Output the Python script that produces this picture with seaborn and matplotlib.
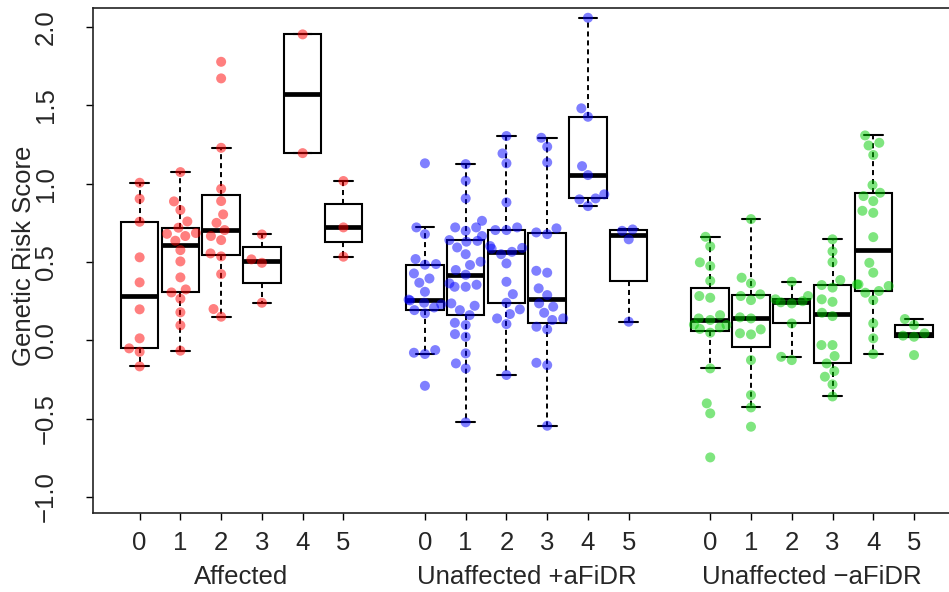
import numpy as np
import pandas as pd
import matplotlib
matplotlib.use("Agg")
import matplotlib.pyplot as plt
import matplotlib.cbook as cbook
import seaborn as sns

# ---------------- data ----------------
groups = ["Affected", "Unaffected +aFiDR", "Unaffected \u2212aFiDR"]
levels = ["0", "1", "2", "3", "4", "5"]
group_colors = ["#FF0000", "#0000FF", "#00CD00"]
y_ticks = [-1.0, -0.5, 0.0, 0.5, 1.0, 1.5, 2.0]
y_tick_labels = ["\u22121.0", "\u22120.5", "0.0", "0.5", "1.0", "1.5", "2.0"]
y_label = "Genetic Risk Score"

affected_0 = [1.006, 0.904, 0.757, 0.530, 0.370, 0.198, 0.013, -0.051, -0.073, -0.166]
affected_1 = [1.074, 0.887, 0.832, 0.759, 0.719, 0.685, 0.680, 0.666, 0.636, 0.576,
              0.504, 0.402, 0.325, 0.306, 0.266, 0.179, 0.096, -0.066]
affected_2 = [1.778, 1.672, 1.229, 0.967, 0.889, 0.804, 0.750, 0.704, 0.666, 0.640,
              0.555, 0.536, 0.423, 0.200, 0.151]
affected_3 = [0.676, 0.517, 0.495, 0.240]
affected_4 = [1.953, 1.195]
affected_5 = [1.017, 0.721, 0.534]

unaff_pos_0 = [1.130, 0.721, 0.678, 0.519, 0.487, 0.483, 0.427, 0.395, 0.368, 0.310,
               0.260, 0.255, 0.240, 0.230, 0.210, 0.193, 0.172, -0.062, -0.079, -0.087, -0.290]
unaff_pos_1 = [1.125, 1.019, 0.906, 0.763, 0.721, 0.721, 0.699, 0.666, 0.640, 0.635,
               0.630, 0.593, 0.550, 0.502, 0.481, 0.449, 0.419, 0.364, 0.355, 0.342,
               0.342, 0.236, 0.221, 0.193, 0.161, 0.112, 0.098, 0.040, 0.023, -0.083,
               -0.147, -0.179, -0.523]
unaff_pos_2 = [1.304, 1.193, 1.130, 0.881, 0.721, 0.704, 0.704, 0.602, 0.590, 0.585,
               0.565, 0.550, 0.491, 0.374, 0.295, 0.240, 0.198, 0.168, 0.140, 0.104, -0.221]
unaff_pos_3 = [1.293, 1.236, 1.136, 0.715, 0.689, 0.678, 0.444, 0.432, 0.332, 0.289,
               0.236, 0.215, 0.176, 0.140, 0.130, 0.087, 0.070, -0.143, -0.158, -0.545]
unaff_pos_4 = [2.059, 1.481, 1.427, 1.112, 1.055, 0.932, 0.906, 0.900, 0.857]
unaff_pos_5 = [0.708, 0.699, 0.645, 0.119]

unaff_neg_0 = [0.661, 0.600, 0.498, 0.474, 0.380, 0.283, 0.272, 0.161, 0.140, 0.130,
               0.100, 0.098, 0.083, 0.073, 0.049, -0.179, -0.402, -0.466, -0.747]
unaff_neg_1 = [0.774, 0.400, 0.364, 0.294, 0.283, 0.257, 0.147, 0.140, 0.070, 0.045,
               0.038, -0.126, -0.349, -0.428, -0.551]
unaff_neg_2 = [0.374, 0.283, 0.262, 0.250, 0.243, 0.236, 0.108, -0.105, -0.126]
unaff_neg_3 = [0.645, 0.568, 0.500, 0.385, 0.353, 0.337, 0.262, 0.246, 0.176, 0.155,
               -0.030, -0.030, -0.100, -0.147, -0.196, -0.232, -0.281, -0.358]
unaff_neg_4 = [1.308, 1.261, 1.244, 1.183, 0.991, 0.942, 0.921, 0.889, 0.827, 0.814,
               0.659, 0.495, 0.432, 0.357, 0.357, 0.347, 0.315, 0.304, 0.257, 0.108,
               0.013, -0.087]
unaff_neg_5 = [0.136, 0.098, 0.045, 0.030, 0.023, -0.094]

series = [
    [affected_0, affected_1, affected_2, affected_3, affected_4, affected_5],
    [unaff_pos_0, unaff_pos_1, unaff_pos_2, unaff_pos_3, unaff_pos_4, unaff_pos_5],
    [unaff_neg_0, unaff_neg_1, unaff_neg_2, unaff_neg_3, unaff_neg_4, unaff_neg_5],
]

rows = []
for gi, g in enumerate(groups):
    for li, lev in enumerate(levels):
        pos = gi * (len(levels) + 1) + li + 1
        for v in series[gi][li]:
            rows.append({"group": g, "level": lev, "pos": pos, "score": v})
df = pd.DataFrame(rows)
positions = sorted(df["pos"].unique())
pos_labels = [levels[(p - 1) % (len(levels) + 1)] for p in positions]
group_centers = [gi * (len(levels) + 1) + (len(levels) + 1) / 2 for gi in range(len(groups))]

# ---------------- R-style (Tukey hinge) box statistics ----------------
_orig_stats = cbook.boxplot_stats


def _fivenum(x):
    x = np.sort(np.asarray(x, float))
    n = len(x)
    n4 = np.floor((n + 3) / 2) / 2
    d = np.array([1, n4, (n + 1) / 2, n + 1 - n4, n]) - 1
    return 0.5 * (x[np.floor(d).astype(int)] + x[np.ceil(d).astype(int)])


def tukey_stats(X, whis=1.5, bootstrap=None, labels=None, autorange=False):
    out = _orig_stats(X, whis=whis, bootstrap=bootstrap, labels=labels, autorange=autorange)
    if len(X) and np.ndim(X[0]) == 0:
        arrays = [np.asarray(X, float)]
    else:
        arrays = [np.asarray(a, float).ravel() for a in X]
    for st, a in zip(out, arrays):
        if len(a) == 0:
            continue
        f = _fivenum(a)
        q1, med, q3 = f[1], f[2], f[3]
        iqr = q3 - q1
        lo, hi = q1 - 1.5 * iqr, q3 + 1.5 * iqr
        st["q1"], st["med"], st["q3"], st["iqr"] = q1, med, q3, iqr
        st["whislo"] = a[a >= lo].min()
        st["whishi"] = a[a <= hi].max()
        st["fliers"] = a[(a < lo) | (a > hi)]
    return out


matplotlib.cbook.boxplot_stats = tukey_stats

# ---------------- styling ----------------
sns.set_style("ticks")
plt.rcParams["font.family"] = ["Liberation Sans", "DejaVu Sans"]
FS = 18.5
LAYOUT_SIZE = 7.6   # marker size used to arrange the swarm
DRAW_SIZE = 7.2     # marker size actually drawn

fig = plt.figure(figsize=(9.49, 5.92), dpi=100)
ax = fig.add_axes([0.0977, 0.1334, 0.9086, 0.8530])
ax.set_xlim(-0.151, 21.005)
ax.set_ylim(-1.102, 2.121)

sns.boxplot(
    data=df, x="pos", y="score", native_scale=True, width=0.92,
    color="white", linecolor="black", linewidth=1.5, showfliers=False,
    whiskerprops=dict(linestyle=(0, (2.6, 2.0)), linewidth=1.4),
    capprops=dict(linewidth=1.5),
    medianprops=dict(linewidth=3.4, solid_capstyle="butt"),
    ax=ax,
)

palette = dict(zip(groups, group_colors))
sns.swarmplot(
    data=df, x="pos", y="score", hue="group", palette=palette, native_scale=True,
    size=LAYOUT_SIZE, alpha=0.5, linewidth=0, legend=False, ax=ax, zorder=3, warn_thresh=1,
)

ax.set_xlim(-0.151, 21.005)
ax.set_ylim(-1.102, 2.121)
ax.set_xticks(positions)
ax.set_xticklabels(pos_labels)
ax.set_yticks(y_ticks)
ax.set_yticklabels(y_tick_labels, rotation=90, va="center")
ax.set_xlabel("")
ax.set_ylabel(y_label, fontsize=FS, va="center")
ax.yaxis.set_label_coords(-0.080, 0.51)

ax.tick_params(axis="both", labelsize=FS, length=5, width=1.0, color="black", direction="out")
ax.tick_params(axis="x", pad=8)
ax.tick_params(axis="y", pad=20)
for sp in ax.spines.values():
    sp.set_visible(True)
    sp.set_linewidth(1.2)
    sp.set_color("#222222")

for gc, g in zip(group_centers, groups):
    ax.text(gc, -0.1406, g, transform=ax.get_xaxis_transform(), ha="center",
            va="baseline", fontsize=FS)

# arrange the swarm once, then freeze it and draw the points at their final size
fig.canvas.draw()
for coll in ax.collections:
    if "draw" in coll.__dict__:
        del coll.draw
    coll.set_sizes([DRAW_SIZE ** 2])

fig.savefig("out.png", dpi=100)
